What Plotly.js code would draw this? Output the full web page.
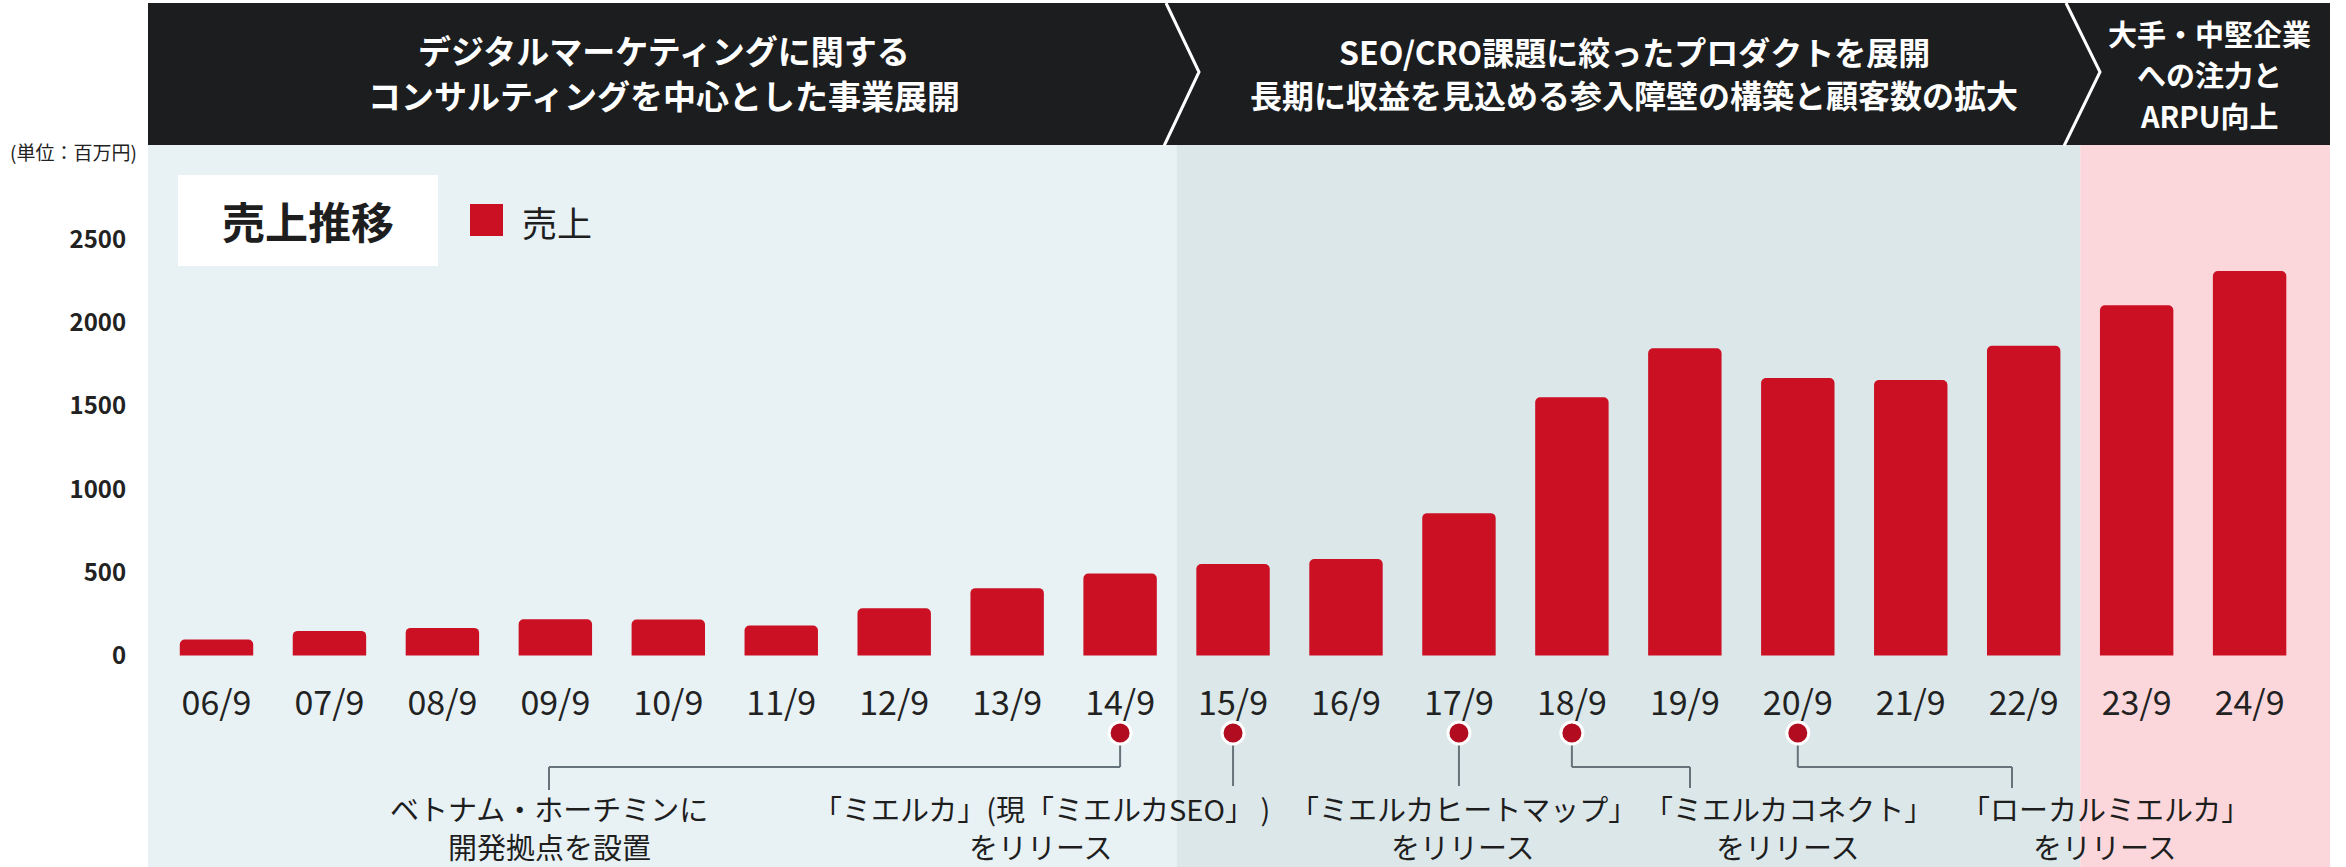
<!DOCTYPE html>
<html>
<head>
<meta charset="utf-8">
<script src="https://cdn.plot.ly/plotly-3.0.1.min.js"></script>
<style>html,body{margin:0;padding:0;background:#fff;}#chart{width:2346px;height:867px;}</style>
</head>
<body>
<div id="chart"></div>
<script>
// ---- data ----
const categories = ['06/9','07/9','08/9','09/9','10/9','11/9','12/9','13/9','14/9','15/9','16/9','17/9','18/9','19/9','20/9','21/9','22/9','23/9','24/9'];
const sales = [96,148,166,218,216,180,284,405,493,550,580,856,1553,1847,1669,1656,1862,2106,2312];
const seriesName = '売上';
const chartTitle = '売上推移';
const unitLabel = '(単位：百万円)';
const yTickValues = [0,500,1000,1500,2000,2500];
const phaseTitles = [
  ['デジタルマーケティングに関する','コンサルティングを中心とした事業展開'],
  ['SEO/CRO課題に絞ったプロダクトを展開','長期に収益を見込める参入障壁の構築と顧客数の拡大'],
  ['大手・中堅企業','への注力と','ARPU向上']
];
const eventCats = ['14/9','15/9','17/9','18/9','20/9'];
const eventLabels = [
  ['ベトナム・ホーチミンに','開発拠点を設置'],
  ['「ミエルカ」(現「ミエルカSEO」 )','をリリース'],
  ['「ミエルカヒートマップ」','をリリース'],
  ['「ミエルカコネクト」','をリリース'],
  ['「ローカルミエルカ」','をリリース']
];

// ---- layout geometry (pixels) ----
const W = 2346, H = 867;
const L = 148, R = 16, T = 145, B = 0;
const PW = W - L - R, PH = H - T - B;
const C0 = 216.5, STEP = 112.95;      // first category centre, px per category
const ZERO = 655.5, K = 0.1663;       // y=0 pixel, px per unit
const xr = [(L - C0) / STEP, (W - R - C0) / STEP];
const yr = [-(H - B - ZERO) / K, (ZERO - T) / K];
const dx = px => (px - C0) / STEP;
const dy = py => (ZERO - py) / K;
const pxp = px => (px - L) / PW;
const pyp = py => (H - B - py) / PH;

const FONT = '"Noto Sans CJK JP", "Noto Sans", sans-serif';
const RED = '#CC1024';
const DOT = '#B20C20';
const LINE = '#66737A';

// phase panels
const phaseEdges = [xr[0], 8.5, 16.5, xr[1]];
const phaseColors = ['#E8F1F4', '#DCE7E9', '#FBD7DB'];

const shapes = [];
for (let i = 0; i < 3; i++) {
  shapes.push({type:'rect', xref:'x', yref:'y', x0:phaseEdges[i], x1:phaseEdges[i+1], y0:yr[0], y1:yr[1],
    fillcolor:phaseColors[i], line:{width:0}, layer:'below'});
}
// header band
shapes.push({type:'rect', xref:'paper', yref:'paper', x0:0, x1:1, y0:pyp(145), y1:pyp(3),
  fillcolor:'#1B1D1E', line:{width:0}, layer:'above'});
// chevrons
[[1166,1199,1164],[2066,2100,2064]].forEach(c => {
  shapes.push({type:'path', xref:'paper', yref:'paper',
    path:`M ${pxp(c[0])} ${pyp(3)} L ${pxp(c[1])} ${pyp(72)} L ${pxp(c[2])} ${pyp(146)}`,
    line:{color:'#FFFFFF', width:3}, layer:'above'});
});
// legend box & swatch
shapes.push({type:'rect', xref:'paper', yref:'paper', x0:pxp(178), x1:pxp(438), y0:pyp(266), y1:pyp(175),
  fillcolor:'#FFFFFF', line:{width:0}, layer:'above'});
shapes.push({type:'rect', xref:'paper', yref:'paper', x0:pxp(470), x1:pxp(503), y0:pyp(236), y1:pyp(204),
  fillcolor:RED, line:{width:0}, layer:'above'});

// event connectors
const dotY = dy(733), elbowY = dy(767);
const elbowX = [dx(549), null, null, dx(1690), dx(2012)];
const endY = [dy(790), dy(786), dy(786), dy(788), dy(788)];
function seg(x0,y0,x1,y1){ shapes.push({type:'line', xref:'x', yref:'y', x0, y0, x1, y1, line:{color:LINE, width:2}, layer:'below'}); }
eventCats.forEach((c, i) => {
  const xi = categories.indexOf(c);
  if (elbowX[i] === null) {
    seg(xi, dotY, xi, endY[i]);
  } else {
    seg(xi, dotY, xi, elbowY);
    seg(xi, elbowY, elbowX[i], elbowY);
    seg(elbowX[i], elbowY, elbowX[i], endY[i]);
  }
});

// annotations
const annotations = [];
const headerPos = [
  {x:664, ys:[50, 95], size:33},
  {x:1634, ys:[51, 94], size:32},
  {x:2209, ys:[33, 74, 115], size:29}
];
phaseTitles.forEach((lines, i) => {
  lines.forEach((t, j) => {
    annotations.push({xref:'paper', yref:'paper', x:pxp(headerPos[i].x), y:pyp(headerPos[i].ys[j]),
      text:'<b>'+t+'</b>', showarrow:false, xanchor:'center', yanchor:'middle', borderpad:0,
      font:{family:FONT, size:headerPos[i].size, color:'#FFFFFF'}});
  });
});
annotations.push({xref:'paper', yref:'paper', x:pxp(8), y:pyp(151), text:unitLabel, showarrow:false,
  xanchor:'left', yanchor:'middle', font:{family:FONT, size:19, color:'#222'}});
annotations.push({xref:'paper', yref:'paper', x:pxp(308), y:pyp(220), text:'<b>'+chartTitle+'</b>', showarrow:false,
  xanchor:'center', yanchor:'middle', font:{family:FONT, size:43, color:'#1E1E1E'}});
annotations.push({xref:'paper', yref:'paper', x:pxp(520), y:pyp(221), text:seriesName, showarrow:false,
  xanchor:'left', yanchor:'middle', font:{family:FONT, size:35, color:'#1E1E1E'}});

const labelX = [549, 1041, 1463, 1788, 2105];
const labelLineY = [808, 846];
eventLabels.forEach((lines, i) => {
  lines.forEach((t, j) => {
    annotations.push({xref:'x', yref:'y', x:dx(labelX[i]), y:dy(labelLineY[j]), text:t, showarrow:false,
      xanchor:'center', yanchor:'middle', font:{family:FONT, size:29, color:'#1E1E1E'}});
  });
});

const traces = [
  {type:'bar', x:categories, y:sales, name:seriesName, width:0.65,
   marker:{color:RED, cornerradius:5, line:{width:0}}, hoverinfo:'x+y'},
  {type:'scatter', mode:'markers', x:eventCats, y:eventCats.map(() => dotY), cliponaxis:false,
   marker:{size:22, color:DOT, line:{color:'#FFFFFF', width:3}}, hoverinfo:'skip'}
];

const layout = {
  width:W, height:H,
  margin:{l:L, r:R, t:T, b:B, pad:0},
  paper_bgcolor:'#FFFFFF', plot_bgcolor:'rgba(0,0,0,0)',
  showlegend:false,
  font:{family:FONT, color:'#222'},
  xaxis:{type:'category', range:xr, anchor:'free', position:pyp(ZERO), side:'bottom',
    showgrid:false, zeroline:false, showline:false, ticks:'outside', ticklen:18,
    tickcolor:'rgba(0,0,0,0)', tickfont:{family:FONT, size:34, color:'#222'}, fixedrange:true},
  yaxis:{range:yr, tickvals:yTickValues, ticktext:yTickValues.map(String),
    showgrid:false, zeroline:false, showline:false, ticks:'outside', ticklen:16,
    tickcolor:'rgba(0,0,0,0)', tickfont:{family:FONT, size:24, color:'#222', weight:'bold'}, fixedrange:true},
  shapes, annotations,
  bargap:0.35
};

Plotly.newPlot('chart', traces, layout, {displayModeBar:false, staticPlot:true});
</script>
</body>
</html>
